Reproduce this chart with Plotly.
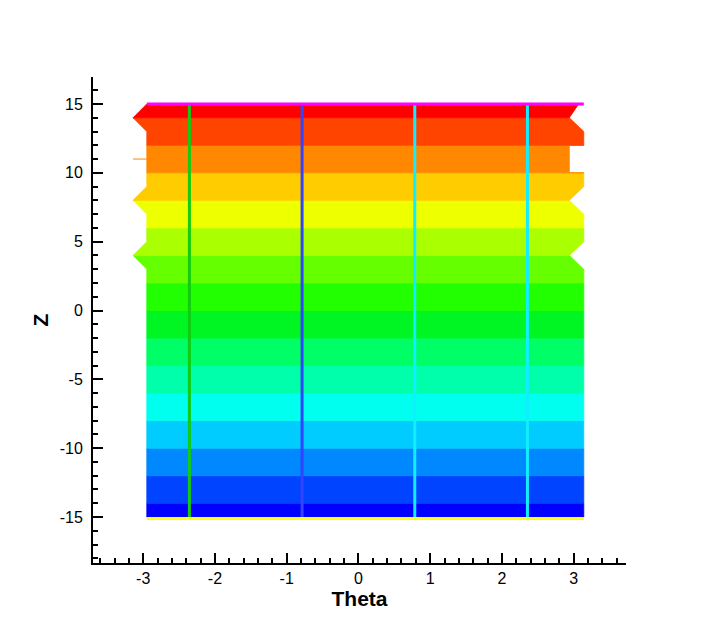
import math
import plotly.graph_objects as go

PI = math.pi

# ---- data ----
# contour band edges (value of Z) and colours
band_lo = [-15, -14, -12, -10, -8, -6, -4, -2, 0, 2, 4, 6, 8, 10, 12, 14]
band_hi = [-14, -12, -10, -8, -6, -4, -2, 0, 2, 4, 6, 8, 10, 12, 14, 15]
band_colors = ["#0000FF", "#0044FF", "#0088FF", "#00CCFF", "#00FFEE", "#00FFAA",
               "#00FF66", "#00F622", "#22FF00", "#66FF00", "#AAFF00", "#EEFF00",
               "#FFCC00", "#FF8800", "#FF4400", "#FF0000"]

# outline of the gridded domain (theta, z)
outline_theta = [-2.95, PI, PI, 2.94, PI, PI, 2.94, PI, PI, 2.94, 2.94, PI, PI, 2.94, 3.07,
                 -2.95, -PI, -2.95, -2.95, -PI, -2.95, -2.95, -PI, -2.95]
outline_z = [-15, -15, 3, 4, 5, 7, 8, 9, 10, 10, 12, 12, 13, 14, 15,
             15, 14, 13, 9, 8, 7, 5, 4, 3]

# degenerate sliver at z = 11 on the left edge
sliver_theta = [-PI, -2.95]
sliver_z = [11, 11]
sliver_color = "#FF8800"

# vertical lines
vline_theta = [-3 * PI / 4, -PI / 4, PI / 4, 3 * PI / 4]
vline_colors = ["#11CC11", "#3344FF", "#11EEFF", "#11EEFF"]
vline_z = [-15, 15]

# boundary lines
top_theta = [-2.95, PI]
top_z = [15, 15]
top_color = "#FF00FF"
bot_theta = [-2.95, PI]
bot_z = [-15.1, -15.1]
bot_color = "#FFFF11"

# tick labels
x_tickvals = [-3, -2, -1, 0, 1, 2, 3]
x_ticktext = ["-3", "-2", "-1", "0", "1", "2", "3"]
y_tickvals = [-15, -10, -5, 0, 5, 10, 15]
y_ticktext = ["-15", "-10", "-5", "0", "5", "10", "15"]


def clip(poly, lo, hi):
    def clip_half(pts, keep, inter):
        out = []
        n = len(pts)
        for i in range(n):
            cur = pts[i]
            prev = pts[i - 1]
            if keep(cur):
                if not keep(prev):
                    out.append(inter(prev, cur))
                out.append(cur)
            elif keep(prev):
                out.append(inter(prev, cur))
        return out

    def inter_at(zc):
        def f(a, b):
            t = (zc - a[1]) / (b[1] - a[1])
            return (a[0] + t * (b[0] - a[0]), zc)
        return f

    pts = clip_half(poly, lambda p: p[1] >= lo, inter_at(lo))
    if not pts:
        return pts
    pts = clip_half(pts, lambda p: p[1] <= hi, inter_at(hi))
    return pts


poly = list(zip(outline_theta, outline_z))

fig = go.Figure()
for lo, hi, col in zip(band_lo, band_hi, band_colors):
    pts = clip(poly, lo, hi)
    if not pts:
        continue
    xs = [p[0] for p in pts] + [pts[0][0]]
    ys = [p[1] for p in pts] + [pts[0][1]]
    fig.add_trace(go.Scatter(x=xs, y=ys, mode="lines", fill="toself", fillcolor=col,
                             line=dict(color=col, width=0.8), hoverinfo="skip",
                             showlegend=False))

fig.add_trace(go.Scatter(x=sliver_theta, y=sliver_z, mode="lines",
                         line=dict(color=sliver_color, width=1), showlegend=False))

for th, col in zip(vline_theta, vline_colors):
    fig.add_trace(go.Scatter(x=[th, th], y=vline_z, mode="lines",
                             line=dict(color=col, width=3), showlegend=False))

fig.add_trace(go.Scatter(x=top_theta, y=top_z, mode="lines",
                         line=dict(color=top_color, width=3), showlegend=False))
fig.add_trace(go.Scatter(x=bot_theta, y=bot_z, mode="lines",
                         line=dict(color=bot_color, width=3), showlegend=False))

font_family = "Liberation Sans, Arial, sans-serif"
axis_common = dict(
    showline=True, linecolor="black", linewidth=2, showgrid=False, zeroline=False,
    ticks="inside", ticklen=10, tickwidth=2, tickcolor="black",
    tickfont=dict(family=font_family, size=16, color="black"),
)

fig.update_layout(
    width=714, height=635,
    margin=dict(l=85, r=96, t=69, b=80),
    plot_bgcolor="white", paper_bgcolor="white",
    xaxis=dict(range=[-3.7, 3.73], tickmode="array", tickvals=x_tickvals,
               ticktext=x_ticktext,
               minor=dict(ticks="inside", ticklen=5, tickwidth=1.5, tickcolor="black",
                          dtick=0.2, tick0=0, showgrid=False),
               title=dict(text="<b>Theta</b>", standoff=0,
                          font=dict(family=font_family, size=21, color="black")),
               ticklabelstandoff=0,
               **axis_common),
    yaxis=dict(range=[-18.34, 16.96], tickmode="array", tickvals=y_tickvals,
               ticktext=y_ticktext,
               minor=dict(ticks="inside", ticklen=5, tickwidth=1.5, tickcolor="black",
                          dtick=1, tick0=0, showgrid=False),
               title=dict(text="<b>Z</b>", standoff=5,
                          font=dict(family=font_family, size=21, color="black")),
               ticklabelstandoff=5,
               **axis_common),
)

fig.write_html("out.html")
